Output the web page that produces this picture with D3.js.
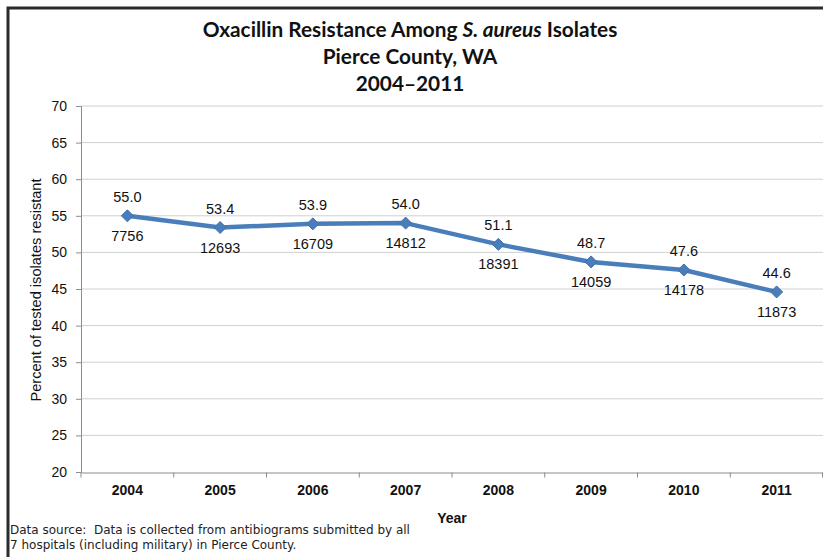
<!DOCTYPE html>
<html>
<head>
<meta charset="utf-8">
<script src="https://cdn.jsdelivr.net/npm/d3@7"></script>
<style>
  html, body { margin: 0; padding: 0; background: #fff; overflow: hidden; }
  svg { display: block; }
</style>
</head>
<body>
<svg id="chart" width="823" height="557"></svg>
<script>
const years = ["2004", "2005", "2006", "2007", "2008", "2009", "2010", "2011"];
const percentResistant = [55.0, 53.4, 53.9, 54.0, 51.1, 48.7, 47.6, 44.6];
const isolatesTested = [7756, 12693, 16709, 14812, 18391, 14059, 14178, 11873];
const yTicks = [20, 25, 30, 35, 40, 45, 50, 55, 60, 65, 70];
const titleLines = ["Pierce County, WA", "2004\u20132011"];

const svg = d3.select("#chart");
svg.append("rect").attr("width", 823).attr("height", 557).attr("fill", "#fff");

// outer frame
svg.append("rect")
  .attr("x", 8).attr("y", 8).attr("width", 840).attr("height", 570)
  .attr("fill", "none").attr("stroke", "#2b2b2b").attr("stroke-width", 3);

const x = d3.scaleBand().domain(years).range([81, 823]).padding(0);
const y = d3.scaleLinear().domain([20, 70]).range([472, 106]);

// gridlines
svg.append("g").selectAll("line").data(yTicks.filter(d => d > 20)).join("line")
  .attr("x1", 81).attr("x2", 823)
  .attr("y1", d => y(d)).attr("y2", d => y(d))
  .attr("stroke", "#d0d0d0").attr("stroke-width", 1);

// y axis
const yAxis = svg.append("g").attr("transform", "translate(81,0)")
  .call(d3.axisLeft(y).tickValues(yTicks).tickSize(5).tickPadding(9).tickFormat(d3.format("d")));
yAxis.select(".domain").attr("stroke", "#8c8c8c");
yAxis.selectAll(".tick line").attr("stroke", "#8c8c8c");
yAxis.selectAll(".tick text").attr("font-family", "Liberation Sans, Arial, sans-serif")
  .attr("font-size", 14).attr("fill", "#111");

// x axis
const xAxis = svg.append("g").attr("transform", "translate(0,472.5)")
  .call(d3.axisBottom(x).tickSize(0).tickPadding(13));
xAxis.select(".domain").attr("stroke", "#8c8c8c");
xAxis.selectAll(".tick text").attr("font-family", "Liberation Sans, Arial, sans-serif")
  .attr("font-size", 14).attr("font-weight", "bold").attr("fill", "#111");
// category boundary ticks
svg.append("g").selectAll("line").data(years.concat(["end"])).join("line")
  .attr("x1", (d, i) => i < years.length ? x(d) : x.range()[1] - 0.5)
  .attr("x2", (d, i) => i < years.length ? x(d) : x.range()[1] - 0.5)
  .attr("y1", 472.5).attr("y2", 477.5)
  .attr("stroke", "#8c8c8c");

// axis titles
svg.append("text")
  .attr("transform", "translate(41,290) rotate(-90)")
  .attr("text-anchor", "middle")
  .attr("font-family", "Liberation Sans, Arial, sans-serif")
  .attr("font-size", 14.6).attr("fill", "#111")
  .text("Percent of tested isolates resistant");

svg.append("text")
  .attr("x", 452).attr("y", 523)
  .attr("text-anchor", "middle")
  .attr("font-family", "Liberation Sans, Arial, sans-serif")
  .attr("font-size", 14).attr("font-weight", "bold").attr("fill", "#111")
  .text("Year");

// title
const titleFont = "Lato, 'Open Sans', sans-serif";
const titleSize = 20.8;
const t1 = svg.append("text")
  .attr("x", 410).attr("y", 37)
  .attr("text-anchor", "middle")
  .attr("font-family", titleFont).attr("font-size", titleSize).attr("font-weight", "bold").attr("fill", "#111");
t1.append("tspan").text("Oxacillin Resistance Among ");
t1.append("tspan").attr("font-style", "italic").text("S. aureus");
t1.append("tspan").text(" Isolates");
svg.append("g").selectAll("text").data(titleLines).join("text")
  .attr("x", 410).attr("y", (d, i) => 64 + i * 27)
  .attr("text-anchor", "middle")
  .attr("font-family", titleFont).attr("font-size", titleSize).attr("font-weight", "bold").attr("fill", "#111")
  .text(d => d);

// line
const pts = years.map((yr, i) => ({ yr, v: percentResistant[i], n: isolatesTested[i] }));
const line = d3.line().x(d => x(d.yr) + x.bandwidth() / 2).y(d => y(d.v));
svg.append("path").datum(pts)
  .attr("d", line)
  .attr("fill", "none").attr("stroke", "#4a7ebb").attr("stroke-width", 4.5)
  .attr("stroke-linejoin", "round").attr("stroke-linecap", "round");

svg.append("g").selectAll("path").data(pts).join("path")
  .attr("transform", d => `translate(${x(d.yr) + x.bandwidth() / 2},${y(d.v)})`)
  .attr("d", "M0,-6L6,0L0,6L-6,0Z")
  .attr("fill", "#4a7ebb").attr("stroke", "#3f70ac").attr("stroke-width", 1);

// data labels
const lab = svg.append("g").attr("font-family", "Liberation Sans, Arial, sans-serif")
  .attr("font-size", 14.5).attr("fill", "#111").attr("text-anchor", "middle");
lab.selectAll("text.v").data(pts).join("text").attr("class", "v")
  .attr("x", d => x(d.yr) + x.bandwidth() / 2).attr("y", d => y(d.v) - 14)
  .text(d => d3.format(".1f")(d.v));
lab.selectAll("text.n").data(pts).join("text").attr("class", "n")
  .attr("x", d => x(d.yr) + x.bandwidth() / 2).attr("y", d => y(d.v) + 25)
  .text(d => d.n);

// footnote
svg.append("g").selectAll("text")
  .data(["Data source:  Data is collected from antibiograms submitted by all",
         "7 hospitals (including military) in Pierce County."])
  .join("text")
  .attr("x", 10).attr("y", (d, i) => 534 + i * 15)
  .attr("font-family", "'DejaVu Sans', sans-serif")
  .attr("font-size", 12).attr("fill", "#222")
  .attr("xml:space", "preserve").style("white-space", "pre")
  .text(d => d);
</script>
</body>
</html>
